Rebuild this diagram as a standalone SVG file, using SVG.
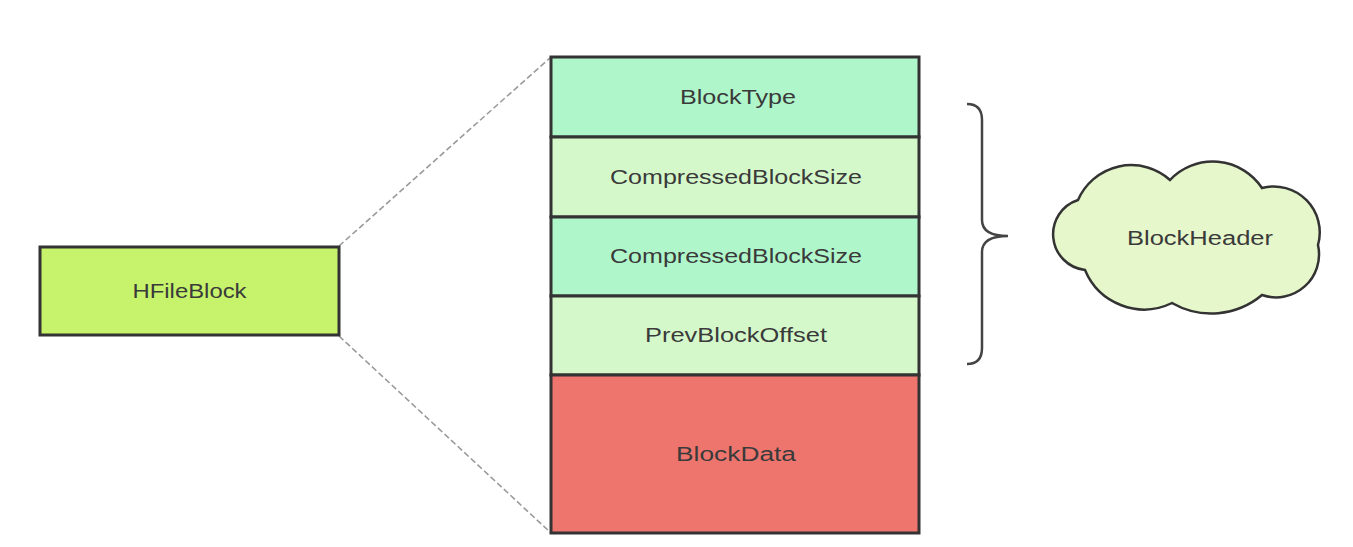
<svg xmlns="http://www.w3.org/2000/svg" width="1353" height="547" viewBox="0 0 1353 547">
<style>
.box{stroke:#333;stroke-width:3}
.lbl{font-family:"Liberation Sans",Arial,sans-serif;font-size:20px;fill:#3a3a3a;text-anchor:middle;dominant-baseline:central}
.dash{stroke:#9a9a9a;stroke-width:1.6;stroke-dasharray:6 3;fill:none}
</style>
<rect width="1353" height="547" fill="#fff"/>
<g id="connectors">
<line class="dash" x1="339" y1="246" x2="551" y2="57"/>
<line class="dash" x1="339" y1="336" x2="551" y2="533"/>
</g>
<g id="hfileblock">
<rect class="box" x="40" y="247" width="299" height="88" fill="#c6f36b"/>
<text class="lbl" x="189.5" y="291" textLength="114" lengthAdjust="spacingAndGlyphs">HFileBlock</text>
</g>
<g id="blocktype">
<rect class="box" x="551" y="57" width="368" height="80" fill="#aff6cb"/>
<text class="lbl" x="738" y="97" textLength="116" lengthAdjust="spacingAndGlyphs">BlockType</text>
</g>
<g id="compressed1">
<rect class="box" x="551" y="137" width="368" height="80" fill="#d5f8cb"/>
<text class="lbl" x="736" y="177" textLength="252" lengthAdjust="spacingAndGlyphs">CompressedBlockSize</text>
</g>
<g id="compressed2">
<rect class="box" x="551" y="217" width="368" height="79" fill="#aff6cb"/>
<text class="lbl" x="736" y="256" textLength="252" lengthAdjust="spacingAndGlyphs">CompressedBlockSize</text>
</g>
<g id="prevblockoffset">
<rect class="box" x="551" y="296" width="368" height="79" fill="#d5f8cb"/>
<text class="lbl" x="736" y="335" textLength="182" lengthAdjust="spacingAndGlyphs">PrevBlockOffset</text>
</g>
<g id="blockdata">
<rect class="box" x="551" y="375" width="368" height="158" fill="#ee756e"/>
<text class="lbl" x="736" y="454" textLength="120" lengthAdjust="spacingAndGlyphs">BlockData</text>
</g>
<g id="brace">
<path d="M967,104 Q982,104 982,120 L982,220 Q982,236 1008,236 Q982,236 982,252 L982,348 Q982,364 967,364" fill="none" stroke="#444" stroke-width="2.5"/>
</g>
<g id="blockheader">
<path d="M1078,200 A58 58 0 0 1 1170,180 A59 59 0 0 1 1262,188 A46 46 0 0 1 1318,245 A43 43 0 0 1 1262,295 A79 79 0 0 1 1172,303 A64 64 0 0 1 1085,270 A36 36 0 0 1 1078,200 Z" fill="#e6f7cb" stroke="#333" stroke-width="2.5"/>
<text class="lbl" x="1200" y="238" textLength="146" lengthAdjust="spacingAndGlyphs">BlockHeader</text>
</g>
</svg>
